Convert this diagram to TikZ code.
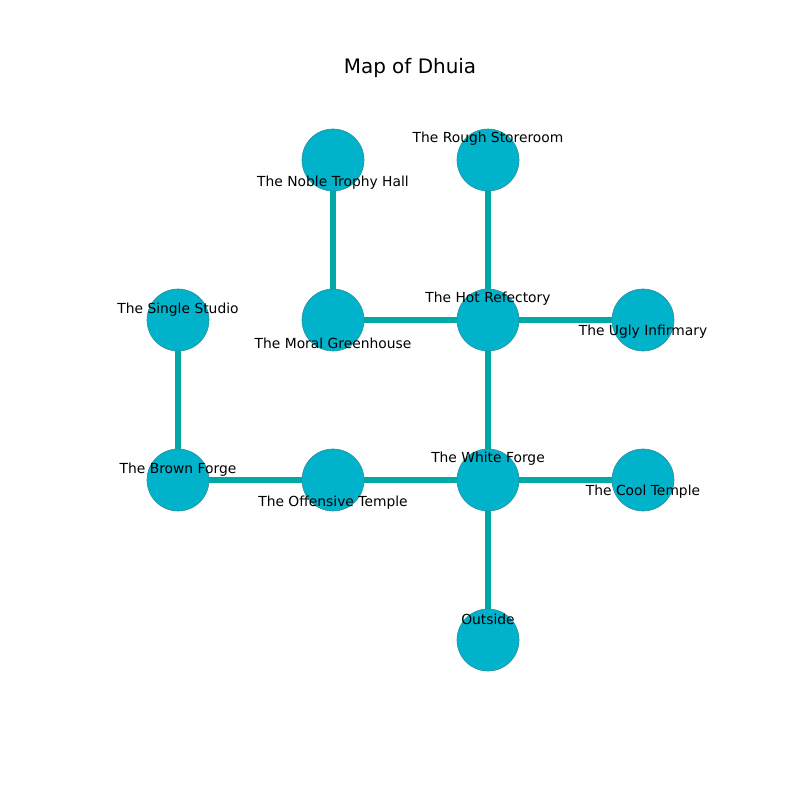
\documentclass[tikz,border=0pt]{standalone}
\usepackage{fontspec}
\setmainfont{DejaVu Sans}
\usepackage{tikz}
\pgfdeclarelayer{edgelayer}
\pgfdeclarelayer{nodelayer}
\pgfsetlayers{edgelayer,nodelayer,main}
\definecolor{roomfill}{HTML}{00B2CA}
\definecolor{roomline}{HTML}{2A8C9C}
\definecolor{passagecol}{HTML}{00A8A8}
\tikzstyle{room}     = [circle,
                        fill=roomfill,
                        draw=roomline,
                        line width=0.4pt,
                        minimum size=0.62in,
                        inner sep=0pt]
\tikzstyle{roomname} = [font=\fontsize{10}{12}\selectfont,
                        inner sep=0pt]
\tikzstyle{passage}  = [draw=passagecol,
                        line width=4pt]

\begin{document}
\begin{tikzpicture}[x=0.01in, y=-0.01in]

  \useasboundingbox (0,0) rectangle (800,800);

  % Title
  \node[font=\fontsize{14.4}{17}\selectfont] (title) at (410,68) {Map of Dhuia};

  % Rooms
  \begin{pgfonlayer}{nodelayer}
  \node[room] (noble)     at (333,160) {};
  \node[room] (rough)     at (488,160) {};
  \node[room] (single)    at (178,320) {};
  \node[room] (moral)     at (333,320) {};
  \node[room] (hot)       at (488,320) {};
  \node[room] (ugly)      at (643,320) {};
  \node[room] (brown)     at (178,480) {};
  \node[room] (offensive) at (333,480) {};
  \node[room] (white)     at (488,480) {};
  \node[room] (cool)      at (643,480) {};
  \node[room] (outside)   at (488,640) {};
  \end{pgfonlayer}

  % Names
  \node[roomname] (noble-n)     at (333,183) {The Noble Trophy Hall};
  \node[roomname] (rough-n)     at (488,139) {The Rough Storeroom};
  \node[roomname] (single-n)    at (178,310) {The Single Studio};
  \node[roomname] (moral-n)     at (333,343) {The Moral Greenhouse};
  \node[roomname] (hot-n)       at (488,299) {The Hot Refectory};
  \node[roomname] (ugly-n)      at (643,332) {The Ugly Infirmary};
  \node[roomname] (brown-n)     at (178,470) {The Brown Forge};
  \node[roomname] (offensive-n) at (333,503) {The Offensive Temple};
  \node[roomname] (white-n)     at (488,459) {The White Forge};
  \node[roomname] (cool-n)      at (643,492) {The Cool Temple};
  \node[roomname] (outside-n)   at (488,619) {Outside};

  % Passages
  \begin{pgfonlayer}{edgelayer}
  \draw[style=passage] (noble.center) -- (moral.center);
  \draw[style=passage] (rough.center) -- (hot.center);
  \draw[style=passage] (single.center) -- (brown.center);
  \draw[style=passage] (moral.center) -- (hot.center);
  \draw[style=passage] (hot.center) -- (ugly.center);
  \draw[style=passage] (hot.center) -- (white.center);
  \draw[style=passage] (brown.center) -- (offensive.center);
  \draw[style=passage] (offensive.center) -- (white.center);
  \draw[style=passage] (white.center) -- (cool.center);
  \draw[style=passage] (white.center) -- (outside.center);
  \end{pgfonlayer}

\end{tikzpicture}
\end{document}
